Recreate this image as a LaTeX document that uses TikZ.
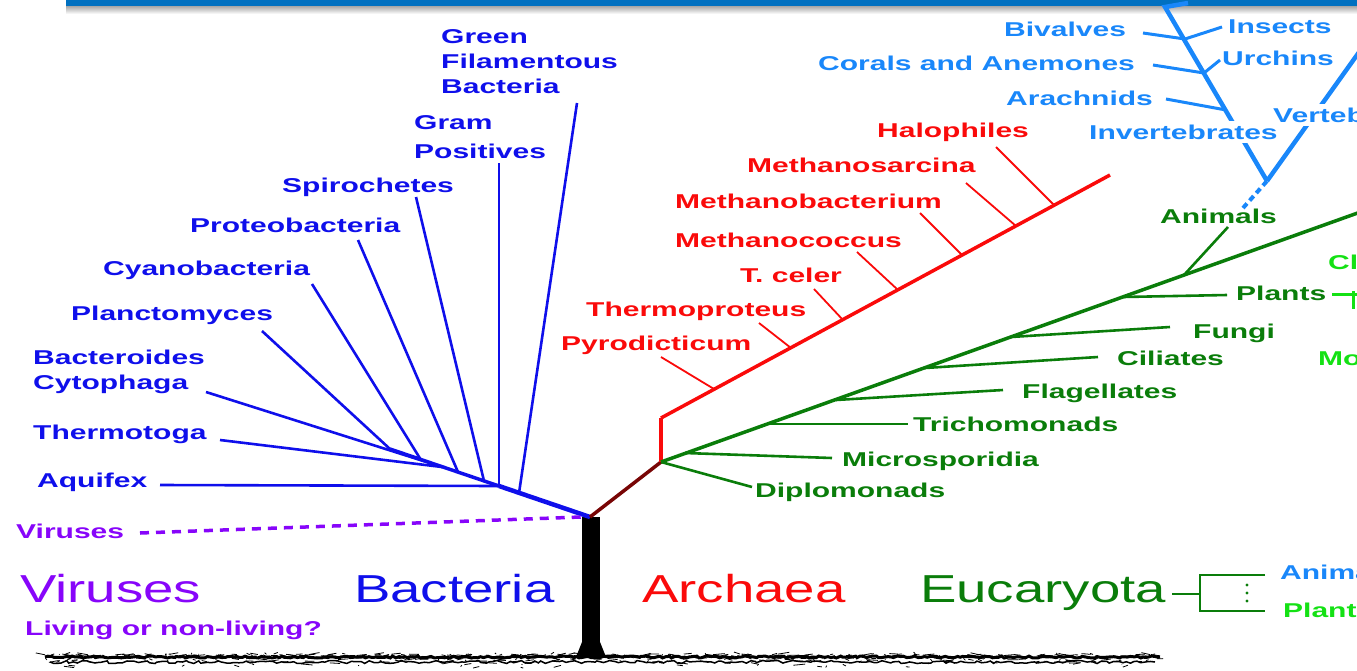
\documentclass[tikz,border=0pt]{standalone}
\usepackage{fontspec}
\usetikzlibrary{decorations.pathmorphing}
\newfontfamily\labfont[FakeStretch=1.5]{Liberation Sans}
\newfontfamily\bigfont[FakeStretch=1.4]{Liberation Sans}
\definecolor{bandblue}{RGB}{0,112,192}
\definecolor{bactblue}{RGB}{15,15,235}
\definecolor{archred}{RGB}{250,10,10}
\definecolor{stemred}{RGB}{120,5,5}
\definecolor{eukgreen}{RGB}{10,125,10}
\definecolor{animblue}{RGB}{25,135,250}
\definecolor{plantgreen}{RGB}{20,225,20}
\definecolor{virpurple}{RGB}{135,5,250}

\begin{document}
\begin{tikzpicture}[x=1pt,y=-1pt,
  lab/.style={font=\labfont\bfseries\fontsize{20}{25}\selectfont, inner sep=0pt, anchor=base west},
  lablines/.style={lab, anchor=north west, align=left},
  big/.style={font=\bigfont\fontsize{39}{40}\selectfont, inner sep=0pt, anchor=base west},
  bact/.style={draw=bactblue, line width=2.6pt},
  arch/.style={draw=archred, line width=1.8pt},
  euk/.style={draw=eukgreen, line width=2.6pt},
  anim/.style={draw=animblue, line width=3pt},
  ground/.style={draw=black, line width=0.8pt}
]
  \useasboundingbox (0,0) rectangle (1357,670);

  % title band
  \fill[bandblue] (66,0) rectangle (1357,6);
  \shade[top color=black!35, bottom color=white] (66,6) rectangle (1357,14);

  % ground and trunk
  \pgfmathsetseed{11}
  \foreach \k in {1,...,420}{
    \pgfmathsetmacro\gx{45+1115*rnd}
    \pgfmathsetmacro\gy{654+14*rnd*rnd}
    \draw[ground] (\gx,\gy) -- ++(12*rand,2*rand);
  }
  \draw[line width=3pt, decorate, decoration={random steps,segment length=3pt,amplitude=1pt}] (45,657) -- (1160,657);
  \draw[line width=1.5pt, decorate, decoration={random steps,segment length=4pt,amplitude=1.5pt}] (50,662) -- (1155,662);
  \fill (582,517) rectangle (600,656);
  \fill (576,657) -- (582,642) -- (600,642) -- (606,657) -- cycle;

  % bacteria
  \coordinate (root) at (590,517);
  \coordinate (bGF) at (519,493);
  \coordinate (bAq) at (499,486);
  \coordinate (bSp) at (484,481);
  \coordinate (bPr) at (458,472);
  \coordinate (bTh) at (442,467);
  \coordinate (bBa) at (436,465);
  \coordinate (bCy) at (421,460);
  \coordinate (bPl) at (390,449);
  \draw[bact, line width=4.5pt] (root) -- (bAq);
  \draw[bact, line width=3.5pt] (bAq) -- (bPl);
  \coordinate (tGF) at (577,103);
  \coordinate (tGP) at (499,163);
  \coordinate (tSp) at (416,197);
  \coordinate (tPr) at (358,240);
  \coordinate (tCy) at (312,284);
  \coordinate (tPl) at (262,331);
  \coordinate (tBa) at (206,392);
  \coordinate (tTh) at (220,440);
  \coordinate (tAq) at (160,485);
  \draw[bact] (bGF) -- (tGF);
  \draw[bact] (bAq) -- (tGP);
  \draw[bact] (bSp) -- (tSp);
  \draw[bact] (bPr) -- (tPr);
  \draw[bact] (bCy) -- (tCy);
  \draw[bact] (bPl) -- (tPl);
  \draw[bact] (bBa) -- (tBa);
  \draw[bact] (bTh) -- (tTh);
  \draw[bact] (bAq) -- (tAq);

  \node[lablines, bactblue] (gfb) at (441,29) {Green\\Filamentous\\Bacteria};
  \node[lablines, bactblue] (gram) at (414,115) {Gram\\[4pt]Positives};
  \node[lab, bactblue] (spiro) at (282,192) {Spirochetes};
  \node[lab, bactblue] (proteo) at (190,232) {Proteobacteria};
  \node[lab, bactblue] (cyano) at (103,275) {Cyanobacteria};
  \node[lab, bactblue] (plancto) at (71,320) {Planctomyces};
  \node[lablines, bactblue] (bactero) at (33,350) {Bacteroides\\Cytophaga};
  \node[lab, bactblue] (thermo) at (33,439) {Thermotoga};
  \node[lab, bactblue] (aquifex) at (37,487) {Aquifex};

  % viruses
  \coordinate (vTip) at (140,533);
  \coordinate (vEnd) at (581,517);
  \draw[virpurple, line width=3.5pt, dash pattern=on 9pt off 7pt] (vTip) -- (vEnd);
  \node[lab, virpurple] (virsmall) at (16,538) {Viruses};

  % archaea
  \coordinate (aSplit) at (661,462);
  \coordinate (aBase) at (661,418);
  \coordinate (aTop) at (1110,175);
  \draw[stemred, line width=3.5pt] (root) -- (aSplit);
  \draw[archred, line width=4pt] (aSplit) -- (aBase);
  \draw[archred, line width=3.5pt] (aBase) -- (aTop);
  \coordinate (aPy) at (714,389);
  \coordinate (aTp) at (791,348);
  \coordinate (aTc) at (843,320);
  \coordinate (aMc) at (898,290);
  \coordinate (aMb) at (962,255);
  \coordinate (aMs) at (1016,226);
  \coordinate (aHa) at (1054,205);
  \draw[arch] (aPy) -- (661,357) coordinate (tPy);
  \draw[arch] (aTp) -- (759,323) coordinate (tTp);
  \draw[arch] (aTc) -- (814,289) coordinate (tTc);
  \draw[arch] (aMc) -- (857,252) coordinate (tMc);
  \draw[arch] (aMb) -- (920,213) coordinate (tMb);
  \draw[arch] (aMs) -- (966,183) coordinate (tMs);
  \draw[arch] (aHa) -- (996,147) coordinate (tHa);

  \node[lab, archred] (halo) at (877,137) {Halophiles};
  \node[lab, archred] (msarc) at (747,172) {Methanosarcina};
  \node[lab, archred] (mbact) at (675,208) {Methanobacterium};
  \node[lab, archred] (mcocc) at (675,247) {Methanococcus};
  \node[lab, archred] (tceler) at (740,282) {T. celer};
  \node[lab, archred] (tprot) at (586,316) {Thermoproteus};
  \node[lab, archred] (pyro) at (561,350) {Pyrodicticum};

  % eucaryota
  \coordinate (eTop) at (1380,205);
  \draw[eukgreen, line width=3.5pt] (aSplit) -- (eTop);
  \coordinate (eMi) at (685,453);
  \coordinate (eTr) at (768,424);
  \coordinate (eFl) at (836,400);
  \coordinate (eCi) at (925,368);
  \coordinate (eFu) at (1011,337);
  \coordinate (ePl) at (1123,297);
  \coordinate (eAn) at (1184,275);
  \draw[euk] (aSplit) -- (752,487) coordinate (tDi);
  \draw[euk] (eMi) -- (832,458) coordinate (tMi);
  \draw[euk] (eTr) -- (908,424) coordinate (tTr);
  \draw[euk] (eFl) -- (1003,390) coordinate (tFl);
  \draw[euk] (eCi) -- (1098,357) coordinate (tCi);
  \draw[euk] (eFu) -- (1170,327) coordinate (tFu);
  \draw[euk] (ePl) -- (1227,295) coordinate (tPl2);
  \draw[euk] (eAn) -- (1228,227) coordinate (tAn);

  \node[lab, eukgreen] (animals) at (1160,223) {Animals};
  \node[lab, eukgreen] (plants) at (1236,300) {Plants};
  \node[lab, eukgreen] (fungi) at (1193,338) {Fungi};
  \node[lab, eukgreen] (ciliates) at (1117,365) {Ciliates};
  \node[lab, eukgreen] (flag) at (1022,398) {Flagellates};
  \node[lab, eukgreen] (tricho) at (913,431) {Trichomonads};
  \node[lab, eukgreen] (micro) at (842,466) {Microsporidia};
  \node[lab, eukgreen] (diplo) at (755,497) {Diplomonads};

  % plants (cut at the edge)
  \coordinate (pA) at (1332,294);
  \coordinate (pB) at (1360,294);
  \coordinate (pC) at (1353,291);
  \coordinate (pD) at (1353,309);
  \draw[plantgreen, line width=3pt] (pA) -- (pB);
  \draw[plantgreen, line width=3pt] (pC) -- (pD);
  \node[lab, plantgreen] (cl) at (1328,269) {Cl};
  \node[lab, plantgreen] (mo) at (1318,365) {Mo};

  % animals (blue)
  \coordinate (vJ) at (1267,181);
  \coordinate (iTop) at (1165,7);
  \coordinate (iTip) at (1188,3);
  \coordinate (vtTop) at (1367,41);
  \coordinate (dLow) at (1243,208);
  \draw[animblue, line width=4pt, dash pattern=on 6pt off 4pt] (dLow) -- (vJ);
  \draw[anim, line width=4.5pt] (vJ) -- (iTop) -- (iTip);
  \draw[anim, line width=4.5pt] (vJ) -- (vtTop);
  \coordinate (iBi) at (1185,39);
  \coordinate (iUr) at (1204,73);
  \coordinate (iAr) at (1226,110);
  \draw[anim] (iBi) -- (1143,33) coordinate (tBi);
  \draw[anim] (iBi) -- (1222,27) coordinate (tIn);
  \draw[anim] (iUr) -- (1153,65) coordinate (tCo);
  \draw[anim] (iUr) -- (1220,60) coordinate (tUr);
  \draw[anim] (iAr) -- (1166,99) coordinate (tAr);

  \node[lab, animblue] (bival) at (1004,36) {Bivalves};
  \node[lab, animblue] (insects) at (1228,33) {Insects};
  \node[lab, animblue] (corals) at (818,70) {Corals and Anemones};
  \node[lab, animblue] (urchins) at (1222,65) {Urchins};
  \node[lab, animblue] (arach) at (1006,105) {Arachnids};
  \node[lab, animblue, fill=white, inner ysep=4pt] (invert) at (1089,139) {Invertebrates};
  \node[lab, animblue, fill=white, inner ysep=4pt] (vert) at (1273,122) {Vertebrates};

  % kingdom names
  \node[big, virpurple] (viruses) at (20,602) {Viruses};
  \node[big, bactblue] (bacteria) at (354,602) {Bacteria};
  \node[big, archred] (archaea) at (642,602) {Archaea};
  \node[big, eukgreen] (eucaryota) at (920,602) {Eucaryota};
  \node[lab, virpurple] (living) at (25,635) {Living or non-living?};

  % key
  \coordinate (kA) at (1172,594);
  \coordinate (kB) at (1200,594);
  \coordinate (kTop) at (1265,575);
  \coordinate (kBot) at (1265,611);
  \draw[eukgreen, line width=1.2pt] (kA) -- (kB);
  \draw[eukgreen, line width=1.2pt] (kTop) -- (kTop -| kB) -- (kBot -| kB) -- (kBot);
  \foreach \yy in {585,593,601} \fill[eukgreen] (1247,\yy) circle (1.6);
  \node[lab, animblue] (keyanim) at (1280,579) {Animals};
  \node[lab, plantgreen] (keyplant) at (1283,617) {Plants};
\end{tikzpicture}
\end{document}
